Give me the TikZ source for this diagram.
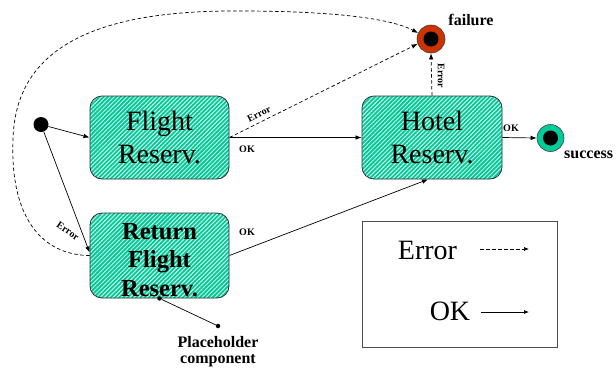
\documentclass[tikz,border=0pt]{standalone}
\usepackage{fontspec}
\setmainfont{Liberation Serif}
\usetikzlibrary{arrows.meta,patterns.meta,calc}
\definecolor{tealc}{HTML}{00C896}
\definecolor{failc}{HTML}{CC3300}
\definecolor{succc}{HTML}{00CC99}
\begin{document}
\begin{tikzpicture}[x=1pt,y=-1pt,
  arr/.style={-{Latex[length=6pt,width=4.5pt]}},
  okl/.style={arr, line width=0.7pt},
  errl/.style={arr, line width=0.7pt, dash pattern=on 3.5pt off 2.5pt},
  statebox/.style={draw=black!80, line width=0.8pt, rounded corners=12pt,
    preaction={fill=tealc},
    pattern={Lines[angle=45,distance=3pt,line width=1pt]}, pattern color=white!80!tealc,
    align=center, inner sep=0pt},
  bigtxt/.style={font=\fontsize{28}{33}\selectfont},
  lbl/.style={font=\fontsize{10}{11}\selectfont\bfseries, inner sep=0pt},
  endst/.style={circle, draw=black!75, line width=0.6pt, minimum size=28pt, inner sep=0pt,
    path picture={\fill[black] (path picture bounding box.center) circle (7.5pt);}},
  captxt/.style={font=\fontsize{16}{16}\selectfont\bfseries, inner sep=0pt, align=center},
  pdot/.style={circle, fill=black, minimum size=4.5pt, inner sep=0pt}
]
\useasboundingbox (0,0) rectangle (616,368);

% states
\node[statebox, bigtxt, minimum width=139pt, minimum height=83pt] (flight) at (159.5,137.5) {Flight\\Reserv.};
\node[statebox, bigtxt, minimum width=140pt, minimum height=83pt] (hotel) at (432,137.5) {Hotel\\Reserv.};
\node[statebox, minimum width=139pt, minimum height=85pt] (ret) at (159.5,255.5) {};
\node[font=\fontsize{24.5}{28.5}\selectfont\bfseries, align=center, inner sep=0pt] (rett) at (159.5,260) {Return\\Flight\\Reserv.};

\node[circle, fill=black, minimum size=15pt, inner sep=0pt] (init) at (41,124.5) {};
\node[endst, fill=failc] (fail) at (431,39) {};
\node[endst, fill=succc, minimum size=27pt] (succ) at (550.5,138) {};

\node[captxt] (failt) at (471,20) {failure};
\node[captxt, anchor=west] (succt) at (564,155) {success};

% transitions
\draw[okl] (init) -- (flight.west);
\draw[okl] (init) -- ($(ret.west)+(0,-3)$);
\draw[okl] (flight.east) -- (hotel.west);
\draw[errl] (flight.east) -- (fail.200);
\draw[errl] (hotel.north) -- (fail.south);
\draw[okl] (hotel.east) -- (succ.west);
\draw[okl] (ret.east) -- ($(hotel.south)+(-4,0)$);
\draw[errl] (ret.west) .. controls (40,255) and (10,215) .. (13,140)
  .. controls (15,40) and (110,10) .. (240,11)
  .. controls (330,11) and (390,18) .. (fail.155);

% transition labels
\node[lbl, rotate=27] (l1) at (259,114) {Error};
\node[lbl] (l2) at (247,149) {OK};
\node[lbl, rotate=-90] (l3) at (441,76) {Error};
\node[lbl] (l4) at (511,128) {OK};
\node[lbl] (l5) at (247,232) {OK};
\node[lbl, rotate=-35] (l6) at (68,231) {Error};

% placeholder
\node[pdot] (pa) at (218,326) {};
\node[pdot] (pb) at (ret.south) {};
\draw[line width=0.7pt] (pa) -- (pb);
\node[captxt] (pht) at (218,351.5) {Placeholder\\component};

% legend
\node[draw=black!70, line width=0.8pt, minimum width=195pt, minimum height=126pt, inner sep=0pt] (legend) at (459.5,284) {};
\node[bigtxt, inner sep=0pt] (errt) at (427.5,250) {Error};
\node[bigtxt, inner sep=0pt] (okt) at (450,311.5) {OK};
\coordinate (e1) at (480,249);
\coordinate (e2) at (529,249);
\coordinate (o1) at (481,312);
\coordinate (o2) at (529,312);
\draw[errl, -{Latex[length=5pt,width=4pt]}] (e1) -- (e2);
\draw[okl, -{Latex[length=5pt,width=4pt]}] (o1) -- (o2);
\end{tikzpicture}
\end{document}
